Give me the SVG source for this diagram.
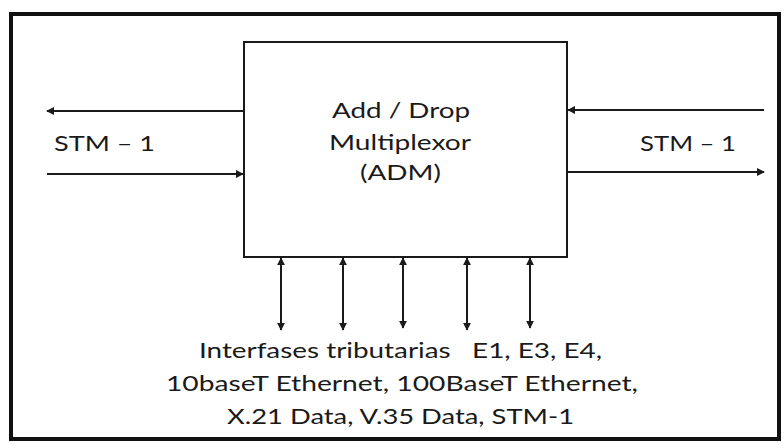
<svg xmlns="http://www.w3.org/2000/svg" width="784" height="445" viewBox="0 0 784 445">
<style>
.t{font-family:Lato,"Open Sans","Liberation Sans",sans-serif;font-size:21.5px;fill:#1a1a1a}
.c{stroke:#1a1a1a;stroke-width:2;fill:none}
</style>
<defs>
<marker id="ah" viewBox="0 0 10 10" refX="9" refY="5" markerWidth="4" markerHeight="4" orient="auto-start-reverse" markerUnits="strokeWidth">
<path d="M0,0 L10,5 L0,10 z" fill="#1a1a1a"/>
</marker>
</defs>
<rect width="784" height="445" fill="#fff"/>
<g id="frame"><rect x="11" y="14" width="768" height="425" fill="none" stroke="#111" stroke-width="4"/></g>
<g id="adm">
<rect x="244" y="42" width="323" height="215" fill="#fff" stroke="#1a1a1a" stroke-width="2"/>
<text class="t" x="332" y="118" textLength="138" lengthAdjust="spacingAndGlyphs">Add / Drop</text>
<text class="t" x="329" y="150" textLength="142" lengthAdjust="spacingAndGlyphs">Multiplexor</text>
<text class="t" x="360" y="180" textLength="81" lengthAdjust="spacingAndGlyphs">(ADM)</text>
</g>
<g id="stm-left"><text class="t" x="54" y="151" textLength="101" lengthAdjust="spacingAndGlyphs">STM – 1</text></g>
<g id="stm-right"><text class="t" x="640" y="151" textLength="96" lengthAdjust="spacingAndGlyphs">STM – 1</text></g>
<g id="tributarias">
<text class="t" x="199" y="358" textLength="403" lengthAdjust="spacingAndGlyphs" xml:space="preserve">Interfases tributarias   E1, E3, E4,</text>
<text class="t" x="166" y="391" textLength="472" lengthAdjust="spacingAndGlyphs">10baseT Ethernet, 100BaseT Ethernet,</text>
<text class="t" x="227" y="424" textLength="347" lengthAdjust="spacingAndGlyphs">X.21 Data, V.35 Data, STM-1</text>
</g>
<g id="connectors">
<line class="c" x1="243" y1="111" x2="47" y2="111" marker-end="url(#ah)"/>
<line class="c" x1="47" y1="174" x2="243" y2="174" marker-end="url(#ah)"/>
<line class="c" x1="764" y1="110" x2="568" y2="110" marker-end="url(#ah)"/>
<line class="c" x1="568" y1="172" x2="764" y2="172" marker-end="url(#ah)"/>
<line class="c" x1="281" y1="258" x2="281" y2="330" marker-start="url(#ah)" marker-end="url(#ah)"/>
<line class="c" x1="343" y1="258" x2="343" y2="330" marker-start="url(#ah)" marker-end="url(#ah)"/>
<line class="c" x1="403" y1="258" x2="403" y2="328" marker-start="url(#ah)" marker-end="url(#ah)"/>
<line class="c" x1="467" y1="258" x2="467" y2="330" marker-start="url(#ah)" marker-end="url(#ah)"/>
<line class="c" x1="530" y1="258" x2="530" y2="328" marker-start="url(#ah)" marker-end="url(#ah)"/>
</g>
</svg>
